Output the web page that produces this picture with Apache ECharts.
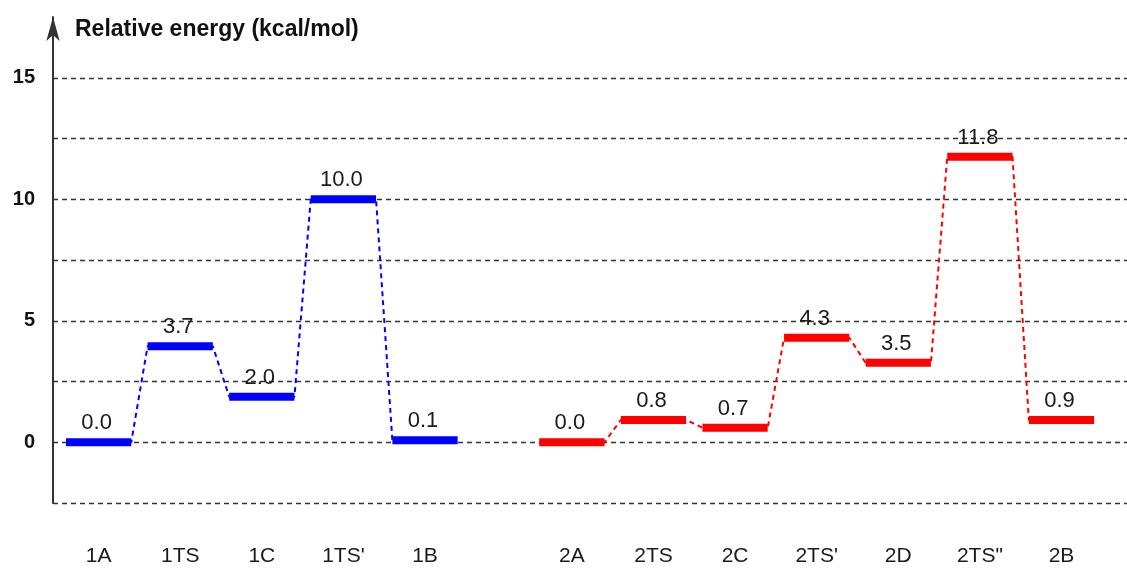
<!DOCTYPE html>
<html><head><meta charset="utf-8">
<script src="https://cdn.jsdelivr.net/npm/echarts@6/dist/echarts.min.js"></script>
<style>html,body{margin:0;padding:0;background:#fff}#c{width:1127px;height:570px}</style>
</head><body><div id="c"></div>
<script>
// ---- data ----
const states1 = ['1A', '1TS', '1C', "1TS'", '1B'];
const levels1 = [0.0, 3.95, 1.87, 10.0, 0.08];          // drawn level heights
const labels1 = ['0.0', '3.7', '2.0', '10.0', '0.1'];     // printed energies
const states2 = ['2A', '2TS', '2C', "2TS'", '2D', '2TS"', '2B'];
const levels2 = [0.0, 0.92, 0.6, 4.3, 3.27, 11.75, 0.92];
const labels2 = ['0.0', '0.8', '0.7', '4.3', '3.5', '11.8', '0.9'];
const yLabelTicks = [0, 5, 10, 15];
const yAxisTitle = 'Relative energy (kcal/mol)';

// ---- layout ----
const G2 = 5.8, HALF = 0.4;
const FONT = '"Liberation Sans", Arial, Helvetica, sans-serif';
const BLUE = '#0000ff', RED = '#ff0000';
function pos(g, i) { return g === 1 ? i : G2 + i; }
function pathData(g, lv) { const d = []; lv.forEach((v, i) => { const x = pos(g, i); d.push([x - HALF, v], [x + HALF, v]); }); return d; }
function levelData(g, lv) { return lv.map((v, i) => [pos(g, i), v]); }

const catPos = [], catName = {};
states1.forEach((s, i) => { const x = pos(1, i); catPos.push(x); catName[x.toFixed(2)] = s; });
states2.forEach((s, i) => { const x = pos(2, i); catPos.push(x); catName[x.toFixed(2)] = s; });

function levelRenderer(color, labels) {
  return function (params, api) {
    const x = api.value(0), y = api.value(1);
    const a = api.coord([x - HALF, y]), b = api.coord([x + HALF, y]), c = api.coord([x, y]);
    return {
      type: 'group',
      children: [
        { type: 'line', shape: { x1: a[0], y1: a[1], x2: b[0], y2: b[1] }, style: { stroke: color, lineWidth: 8, lineCap: 'butt' } },
        { type: 'text', x: c[0] - 2, y: c[1] - 19, style: { text: labels[params.dataIndex], fill: '#1a1a1a', font: '22px ' + FONT, align: 'center', verticalAlign: 'middle' } }
      ]
    };
  };
}

const chart = echarts.init(document.getElementById('c'), null, { renderer: 'canvas' });
chart.setOption({
  animation: false,
  backgroundColor: '#fff',
  title: { text: yAxisTitle, left: 70, top: 13, textStyle: { fontFamily: FONT, fontWeight: 'bold', fontSize: 23, color: '#111' } },
  grid: { left: 53, right: 0, top: 17, bottom: 67 },
  xAxis: {
    type: 'value', min: -0.559, max: 12.603,
    axisLine: { show: false }, axisTick: { show: false }, splitLine: { show: false },
    axisLabel: {
      customValues: catPos, margin: 43, color: '#1a1a1a', fontFamily: FONT, fontSize: 21,
      formatter: v => catName[Number(v).toFixed(2)] || ''
    }
  },
  yAxis: {
    type: 'value', min: -2.5, max: 17.5, interval: 2.5,
    axisLine: { show: true, onZero: false, symbol: ['none', 'arrow'], symbolSize: [10, 24], lineStyle: { color: '#333', width: 2 } },
    axisTick: { show: false },
    axisLabel: { customValues: yLabelTicks, margin: 18, color: '#111', fontFamily: FONT, fontSize: 20, fontWeight: 'bold' },
    splitLine: { show: true, lineStyle: { type: [5, 4], width: 1.3, color: ['#333', '#333', '#333', '#333', '#333', '#333', '#333', '#333', 'rgba(0,0,0,0)'] } }
  },
  series: [
    { type: 'line', data: pathData(1, levels1), symbol: 'none', z: 2, lineStyle: { color: BLUE, width: 2, type: [5, 4] } },
    { type: 'line', data: pathData(2, levels2), symbol: 'none', z: 2, lineStyle: { color: RED, width: 2, type: [5, 4] } },
    { type: 'custom', data: levelData(1, levels1), encode: { x: 0, y: 1 }, z: 3, renderItem: levelRenderer(BLUE, labels1) },
    { type: 'custom', data: levelData(2, levels2), encode: { x: 0, y: 1 }, z: 3, renderItem: levelRenderer(RED, labels2) }
  ]
});
</script></body></html>
